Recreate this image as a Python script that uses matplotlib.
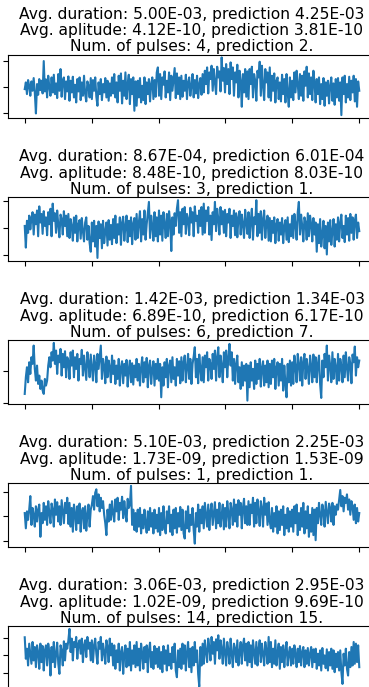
import matplotlib.pyplot as plt
from matplotlib.ticker import MultipleLocator, NullFormatter
import numpy as np

duration = [5.00e-03, 8.67e-04, 1.42e-03, 5.10e-03, 3.06e-03]
duration_pred = [4.25e-03, 6.01e-04, 1.34e-03, 2.25e-03, 2.95e-03]
amplitude = [4.12e-10, 8.48e-10, 6.89e-10, 1.73e-09, 1.02e-09]
amplitude_pred = [3.81e-10, 8.03e-10, 6.17e-10, 1.53e-09, 9.69e-10]
pulses = [4, 3, 6, 1, 14]
pulses_pred = [2, 1, 7, 1, 15]

# traces in raw counts
sig1 = [-5, 15, -20, 22, 5, -25, 18, -10, 28, -15, -78, 10, -22, 25, -8, 20, -18, 79, -12, 24,
        -30, 35, 2, -25, 30, -15, 38, -20, 12, -32, 40, -10, 55, -28, 22, 30, -35, 18, -12, 33,
        -40, 20, -15, 32, -30, 8, -45, 25, -12, 30, -38, 15, -25, 35, -20, -42, 18, 5, -30, 28,
        -35, 22, -10, 30, -28, -55, 15, -20, 25, -38, 10, -15, 28, -30, 20, -40, 12, -25, 30, -18,
        40, -30, 15, -45, 35, -10, 42, -48, 20, -25, 45, -35, 10, 38, -50, 25, -20, 30, -70, 18,
        -55, 20, -30, 28, -45, 5, -38, 30, -50, 15, -20, 25, -42, 10, 30, -35, 22, -28, 45, 60,
        -25, 40, -35, 30, 8, 48, -30, 20, -15, 45, -38, 35, -10, 25, 58, -32, 42, -20, 30, -35,
        35, -28, 20, -10, 38, -35, 15, 30, -25, 5, 40, -30, 22, -18, 35, -32, 10, 28, -22, 40,
        -15, 50, 10, 60, -18, 45, 25, 65, -10, 55, 15, -20, 62, 30, 48, -12, 90, 20, 58, -15,
        70, 10, 55, -20, 75, 25, 60, -25, 45, 15, 68, -30, 50, 20, -58, 40, -15, 55, -28, 48,
        -35, 55, 10, 62, -30, 40, 20, -40, 50, 30, 77, -25, 65, 5, -38, 55, 15, 45, -30, 60,
        -40, 35, -10, 42, -45, 20, 30, -35, 15, -42, 38, -20, 25, -45, 40, -15, -58, 30, -30, 20,
        -38, 45, -15, 50, 10, -35, 40, -25, 35, -40, 48, 5, 62, -30, 42, -20, 30, -38, 50, 15,
        -45, 25, -20, 30, -50, 10, -35, 28, -55, 15, -25, 20, -48, 5, 30, -40, 12, -52, 25, -30,
        28, -40, 15, -83, 30, -20, 35, -45, 10, -30, 32, -38, 20, -15, 35, -42, 25, -58, 18, -10]
sig2 = [5, -58, 20, -15, 35, -5, 28, 45, -20, 38, 10, 50, -25, 62, 15, 40, -18, 48, 5, 30,
        -22, 45, 10, 55, -25, 70, 20, 42, -15, 50, 8, -28, 38, 25, -20, 48, 5, 35, -25, 40,
        -30, 25, 5, -38, 30, -15, 35, -40, 10, 22, -32, 28, -10, -40, 15, 30, -35, 5, -45, -70,
        15, -40, 20, -55, 5, -88, 18, -30, 10, -60, 20, -45, -10, 15, -52, 22, -35, 8, -48, 25,
        -30, 35, -45, 10, -20, 30, -50, 15, 32, -38, 5, 35, -42, 20, -25, 30, -48, 12, 28, -35,
        40, -30, 15, 48, -40, 25, -20, 50, -35, 10, 42, 75, -30, 35, 5, -38, 45, -25, 30, -40,
        50, -20, 35, -38, 45, 10, -30, 40, -25, 48, 15, -68, 30, -20, 42, 5, 55, 80, -15, 45,
        -25, 55, 10, 60, -18, 40, 25, -22, 58, 15, 45, -25, 62, 20, 35, -15, 50, 5, 60, -20,
        70, -15, 50, 20, 60, -20, 35, -36, 45, 10, 75, -10, 55, 25, -20, 60, 10, 48, -15, 52,
        -25, 40, 15, 55, -30, 35, 5, 50, -22, 42, -28, 30, 48, -20, 38, 10, -30, 52, 15, -18,
        45, -30, 20, 55, -35, 30, 10, 80, -25, 40, -15, 48, -35, 25, 50, -30, 15, 35, -38, 28,
        -40, 20, -15, 30, -45, 10, 25, -38, 15, -20, 28, -45, 5, 22, -35, 30, -42, 10, -25, 35,
        -30, 40, 10, -35, 45, 75, -20, 38, 5, -40, 30, 15, -35, 42, -25, 35, 10, -40, 28, -20,
        15, -70, 10, -45, 25, -55, -20, 20, -60, 5, -78, 15, -40, 22, -50, -10, 25, -55, 10, -35,
        30, -40, 15, 38, -30, 5, -42, 35, -20, 28, -38, 40, -15, 30, -35, 20, 38, -30, 15, -10]
sig3 = [-70, -20, 10, -35, 25, -10, 40, 20, 75, 5, -30, 15, -40, -15, -55, -30, -60, -70, -25, -45,
        -30, 15, 40, 10, 55, 30, 83, 20, 60, -10, 45, 25, 65, -15, 50, 10, 58, -20, 40, 30,
        -25, 55, 15, 60, -20, 40, 5, 50, -30, 35, 20, 62, -15, 45, 10, -28, 55, 25, -20, 48,
        10, -30, 45, 20, -35, 50, 5, 40, 75, -25, 35, 15, -38, 42, -20, 30, 10, -35, 45, -10,
        30, -40, 15, -25, 35, -45, 10, 28, -38, 20, -15, 32, -48, 5, 30, -35, 22, -42, 15, -20,
        35, -30, 20, -45, 10, 40, -35, 25, -20, 38, -50, 15, 30, -40, 5, 28, -45, 20, -25, 35,
        -30, 20, -80, 10, -45, 25, -20, 35, -50, 15, 30, -35, 40, -25, 10, -45, 35, -15, 28, -38,
        40, -30, 25, 45, -35, 10, 50, -25, 35, -40, 20, 42, 70, -20, 35, -38, 48, 5, -30, 40,
        -35, 45, 10, 55, -30, 35, 20, -25, 50, 5, 60, -30, 40, 70, -20, 45, 15, -35, 55, 10,
        60, -20, 40, 80, 15, 55, -30, 35, -40, 20, 45, -35, 10, -55, 25, -45, 15, -30, 20, -90,
        15, -50, 25, -30, 5, -55, 30, -40, 20, -25, 35, -48, 10, 28, -45, 15, -35, 30, -50, 20,
        -40, 30, -20, 35, -55, 10, 25, -45, 20, -30, 35, -60, 15, -40, -80, 20, -35, 30, -45, 25,
        -40, 45, 10, -35, 50, 20, -30, 40, -45, 25, 50, -25, 35, 5, -40, 45, 15, -35, 48, -20,
        40, -35, 20, 45, -40, -82, 30, -20, 50, 10, 75, -30, 45, 15, -35, 55, -25, 35, 10, -40,
        50, -30, 35, 15, -35, 45, -20, 55, 10, -30, 40, 20, -38, 48, 25, 72, -15, 40, 10, 30]
sig4 = [10, -35, 15, -10, 20, 60, -25, 25, 5, -30, 30, -15, 20, 35, -60, 10, -20, 40, -10, 30,
        -25, 45, 10, -20, 38, 20, -30, 50, 5, 42, -15, 30, -25, 48, 15, -20, 40, 10, 55, -22,
        40, -30, 25, -45, 35, 10, -40, 30, -20, 38, -45, 15, 25, -35, 30, -42, 5, 35, -30, 20,
        35, 60, 20, 70, 80, 30, 65, 15, 55, 25, 45, 5, -20, -55, 20, -15, 35, -10, 45, 10,
        -15, 50, 15, 55, -10, 40, 20, 58, -5, 45, 10, -15, 52, 25, 35, 90, -25, 20, -40, 10,
        -45, 20, -30, 25, -50, 5, -35, 20, -20, -48, 15, -40, 25, -30, 10, -50, 20, -35, 5, -45,
        25, -55, 10, -40, 30, -30, -50, 15, -20, 30, -45, 5, -55, 20, -35, 25, -48, 10, -30, 28,
        -40, 20, -50, -65, 15, -35, 30, -45, 5, -25, 25, -40, -80, 10, -30, 35, -45, 20, -20, 30,
        -35, 40, 5, -30, 35, -40, 15, 38, -25, 10, 42, -35, 20, -20, 40, -30, 5, 35, -38, 25,
        -30, 45, 10, -35, 40, 20, -25, 50, -15, 35, -30, 48, 5, 40, -35, 25, 52, -20, 30, -25,
        45, -25, 35, 10, 55, -30, 40, -20, 50, 15, -28, 45, 25, -30, 55, 5, 38, -25, 42, -15,
        -35, 25, -45, 10, -30, 30, -50, 15, -40, 20, -25, 30, -55, 5, -35, 25, -45, 15, -30, 20,
        -45, 30, -20, 35, -55, 10, -40, 25, -30, 40, -50, 15, -35, 30, -60, 5, -45, 25, -55, 20,
        -70, 25, -20, 40, 5, -25, 35, 15, -30, 43, 10, -20, 38, 25, -15, 40, -25, 30, 5, 35,
        20, 50, 78, 30, 60, 15, 55, 40, 65, 20, 50, 5, 45, 30, -10, 35, -20, 25, -15, 10]
sig5 = [54, -10, 20, -30, 35, 5, -25, 40, -15, 25, -35, 30, 10, -40, 35, -20, 28, -45, 15, 30,
        -30, 35, 10, -60, 25, -20, 40, -35, 5, 38, -25, -55, 30, 15, -30, 42, -15, 35, 20, 45,
        79, 10, 50, -15, 40, 25, 55, -10, 35, 45, 5, 50, -20, 30, 45, -5, 55, 20, 38, -15,
        45, -20, 30, 50, 5, -25, 40, 20, 55, -15, 35, 10, -25, 45, 25, -20, 50, 0, 35, -30,
        30, -40, 15, -20, 35, -45, 10, 25, -55, 5, 30, -35, 20, -30, 40, -45, 15, -25, 30, -35,
        40, -30, 20, -45, 35, 5, -40, 25, -20, 30, -50, 15, 38, -35, 10, -40, 28, -25, 20, -35,
        25, -40, 10, -50, 28, -25, 15, -45, 30, -30, 5, -40, 25, -20, 35, -45, -65, 15, -35, 20,
        -40, 35, -25, 30, -45, 10, 40, -35, 20, -50, 25, -30, 40, -20, 15, -55, -93, 25, -30, 35,
        -25, 45, 10, -20, 50, 25, -15, 55, 5, 40, -25, 48, 15, 60, -10, 45, 20, -25, 50, 10,
        -30, 40, 15, -25, 50, 5, -35, 35, 20, -20, 45, -30, 10, 40, -25, 30, 50, -15, 35, -30,
        40, -20, 30, -35, 45, 10, -25, 40, -30, 20, 45, -20, 35, 5, -30, 40, 15, -25, 55, -20,
        40, -35, 20, -25, 45, -30, 10, 35, -40, 25, -20, 30, -35, 15, 40, -30, 5, 25, -30, 20,
        -25, 30, 5, -35, 20, -20, 28, -30, 10, 25, -35, 15, -25, 22, -30, 5, 25, -35, 18, -20,
        20, -40, 5, -30, 15, -45, 22, -25, 0, -38, 18, -45, 10, -30, 20, -40, 15, -50, 5, -35,
        10, -45, 15, -50, -85, 5, -30, 20, -40, -60, 10, -35, 25, -30, 40, -25, 35, -20, 30, -35]
signals = [sig1, sig2, sig3, sig4, sig5]
counts_per_unit = [78, 79, 98, 71.5, 52]

W, H = 369, 687
fig = plt.figure(figsize=(W / 100, H / 100), dpi=100)

tops = [54.5, 197.3, 340, 483, 626]
for k, sig in enumerate(signals):
    ax = fig.add_axes([8 / W, 1 - (tops[k] + 63.5) / H, 368 / W, 63.5 / H])
    y = np.array(sig) / counts_per_unit[k]
    t = np.linspace(0, 1, len(y))
    ax.plot(t, y, color='tab:blue', lw=1.5)
    ax.xaxis.set_major_locator(MultipleLocator(0.2))
    ax.yaxis.set_major_locator(MultipleLocator(1))
    ax.xaxis.set_major_formatter(NullFormatter())
    ax.yaxis.set_major_formatter(NullFormatter())
    title = (f'Avg. duration: {duration[k]:.2E}, prediction {duration_pred[k]:.2E}\n'
             f'Avg. aplitude: {amplitude[k]:.2E}, prediction {amplitude_pred[k]:.2E}\n'
             f'Num. of pulses: {pulses[k]}, prediction {pulses_pred[k]}.')
    ax.set_title(title, fontsize=11.2, pad=1.5, linespacing=1.12)

fig.savefig('out.png', dpi=100)
